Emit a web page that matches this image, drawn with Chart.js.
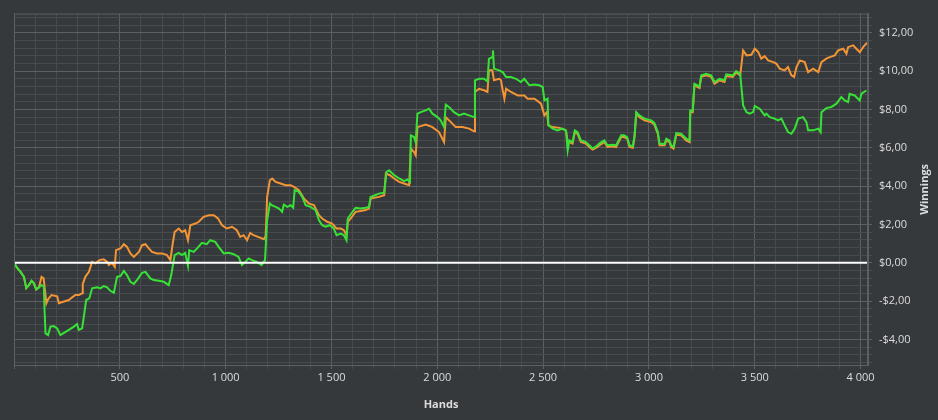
<!DOCTYPE html>
<html>
<head>
<meta charset="utf-8">
<script src="https://cdn.jsdelivr.net/npm/chart.js@4.4.1/dist/chart.umd.min.js"></script>
<style>
  html, body { margin: 0; padding: 0; background: #36393c; }
  canvas { display: block; }
</style>
</head>
<body>
<canvas id="myChart" width="938" height="420"></canvas>
<script>
// hands / winnings
const greenHands = [0,15,31,47,58,70,83,94,105,118,130,141,144,149,161,172,188,204,219,236,259,283,298,306,322,330,341,356,369,393,408,424,440,455,472,479,487,503,519,534,550,566,581,605,621,644,660,684,708,731,743,759,778,794,809,822,828,849,865,888,911,927,951,967,991,1014,1038,1061,1077,1093,1109,1124,1148,1170,1186,1196,1209,1220,1236,1252,1267,1275,1291,1307,1319,1326,1346,1362,1378,1401,1425,1441,1456,1472,1492,1511,1524,1543,1559,1571,1577,1590,1614,1637,1661,1677,1685,1700,1724,1749,1760,1772,1796,1820,1843,1859,1871,1875,1890,1898,1906,1922,1945,1961,1977,2001,2016,2032,2040,2055,2079,2103,2126,2150,2174,2178,2197,2221,2237,2244,2260,2263,2268,2292,2309,2325,2348,2372,2395,2411,2435,2459,2482,2498,2506,2521,2525,2545,2569,2592,2608,2616,2624,2639,2650,2663,2678,2702,2718,2734,2757,2765,2789,2804,2829,2845,2853,2869,2882,2897,2908,2924,2932,2940,2955,2979,3011,3026,3042,3050,3074,3082,3097,3105,3116,3129,3152,3176,3192,3195,3207,3215,3239,3247,3271,3294,3310,3333,3357,3365,3396,3412,3431,3445,3461,3476,3492,3500,3523,3547,3555,3571,3594,3610,3626,3641,3657,3673,3689,3705,3728,3744,3752,3776,3800,3811,3815,3838,3862,3886,3909,3925,3941,3948,3972,3996,4004,4027];
const greenWin = [0,-0.27,-0.47,-0.73,-1.32,-1.16,-0.94,-1.07,-1.39,-1.28,-1.16,-1.25,-2.38,-3.68,-3.77,-3.33,-3.30,-3.42,-3.77,-3.65,-3.50,-3.33,-3.19,-3.50,-3.42,-2.81,-1.94,-1.85,-1.33,-1.28,-1.33,-1.21,-1.28,-1.46,-1.56,-1.16,-0.73,-0.69,-0.42,-0.64,-0.99,-1.10,-0.90,-0.52,-0.47,-0.81,-0.90,-0.94,-0.99,-1.16,-0.64,0.40,0.52,0.40,0.52,-0.17,0.66,0.57,0.75,1.04,0.97,1.18,1.09,0.83,0.49,0.52,0.45,0.31,-0.12,0.05,0.23,0.14,0.05,-0.12,0.14,2.22,3.09,3.00,2.92,2.83,2.66,3.04,2.92,3.01,2.87,3.79,3.70,3.44,3.01,2.92,2.74,2.22,1.96,1.88,1.96,1.79,1.44,1.53,1.44,1.18,2.31,2.52,2.87,2.83,2.87,2.92,3.44,3.50,3.61,3.66,4.74,4.83,4.57,4.40,4.26,4.35,4.22,6.65,6.56,6.30,7.78,7.86,7.95,8.04,7.78,7.60,7.43,7.08,8.25,8.13,7.86,7.69,7.78,7.69,7.60,9.52,9.60,9.60,9.46,10.64,10.73,11.08,10.13,10.04,9.95,9.69,9.69,9.60,9.43,9.60,9.26,9.30,9.26,9.17,8.47,8.56,7.17,7.00,6.91,7.00,6.91,5.87,6.39,6.30,6.91,6.82,6.39,6.30,6.13,5.96,6.13,6.22,6.39,6.13,6.16,6.13,6.30,6.65,6.65,6.56,6.13,6.08,6.65,7.86,7.69,7.52,7.43,7.29,6.82,6.22,6.20,6.48,6.39,6.13,6.04,6.77,6.73,6.48,6.39,7.95,7.95,9.34,9.20,9.78,9.86,9.78,9.43,9.60,9.52,9.83,9.78,10.00,9.86,8.21,7.86,7.78,7.86,8.18,8.04,7.69,7.78,7.60,7.52,7.43,7.52,7.17,6.82,6.73,7.00,7.52,7.60,7.34,6.91,6.91,7.00,6.82,7.86,8.07,8.13,8.30,8.65,8.47,8.39,8.82,8.73,8.47,8.82,8.99];

const orangeHands = [0,15,31,47,58,70,83,94,105,118,130,140,153,161,177,204,212,236,259,275,290,306,322,325,337,354,369,385,404,424,440,448,463,476,482,503,519,534,550,566,590,605,621,637,652,676,700,723,739,750,759,778,794,809,822,833,857,873,896,920,944,964,983,1006,1030,1053,1069,1085,1101,1116,1132,1153,1165,1181,1189,1196,1209,1220,1236,1260,1283,1307,1323,1346,1370,1394,1417,1441,1456,1480,1503,1524,1543,1559,1571,1577,1590,1614,1637,1661,1677,1685,1724,1749,1757,1776,1796,1820,1843,1867,1875,1890,1898,1906,1922,1945,1977,2008,2032,2040,2064,2087,2119,2150,2174,2178,2197,2221,2237,2244,2260,2268,2292,2301,2309,2317,2325,2348,2380,2411,2427,2459,2490,2506,2518,2525,2545,2578,2608,2616,2624,2639,2650,2663,2678,2702,2718,2734,2757,2765,2789,2804,2829,2845,2853,2869,2882,2897,2908,2924,2932,2940,2955,2979,3011,3026,3042,3050,3074,3082,3097,3105,3116,3129,3152,3176,3192,3195,3207,3215,3239,3247,3271,3294,3310,3333,3357,3365,3396,3412,3431,3445,3461,3484,3500,3516,3531,3547,3563,3587,3602,3618,3641,3657,3673,3686,3697,3713,3736,3752,3776,3800,3815,3838,3854,3878,3894,3918,3933,3941,3965,3980,3996,4012,4030];
const orangeWin = [0,-0.27,-0.47,-0.73,-1.32,-1.16,-0.94,-1.07,-1.39,-1.28,-0.73,-0.81,-2.11,-1.90,-1.68,-1.75,-2.11,-2.02,-1.94,-1.80,-1.68,-1.68,-1.59,-1.10,-0.73,-0.47,0.05,-0.03,0.14,0.18,0.05,-0.12,0.00,-0.21,0.66,0.75,0.97,0.83,0.49,0.31,0.57,0.92,0.97,0.75,0.57,0.49,0.49,0.40,0.14,1.01,1.61,1.79,1.61,1.70,1.18,1.96,2.05,2.14,2.40,2.48,2.48,2.31,1.96,1.79,1.88,1.70,1.35,1.44,1.18,1.56,1.44,1.35,1.30,1.23,1.40,3.44,4.31,4.40,4.22,4.14,4.05,4.05,3.96,3.79,3.35,3.09,3.01,2.48,2.31,2.14,2.05,1.79,1.79,1.70,1.44,2.14,2.31,2.66,2.70,2.75,2.83,3.35,3.44,3.53,4.66,4.57,4.40,4.22,4.14,4.05,5.96,5.78,5.61,7.08,7.13,7.21,7.08,6.82,6.30,7.60,7.34,7.08,7.08,7.00,6.86,8.91,9.08,9.00,8.91,10.04,10.04,9.52,9.60,9.52,9.00,8.56,9.08,8.91,8.73,8.73,8.56,8.56,8.30,7.69,7.86,7.17,7.08,7.04,6.91,6.30,6.30,6.22,6.82,6.73,6.30,6.22,6.04,5.91,6.04,6.13,6.30,6.04,6.08,6.04,6.22,6.56,6.56,6.48,6.04,6.00,6.56,7.78,7.60,7.43,7.34,7.20,6.73,6.13,6.13,6.39,6.30,6.04,5.96,6.68,6.65,6.39,6.30,7.86,7.86,9.26,9.12,9.70,9.78,9.70,9.34,9.52,9.43,9.75,9.70,9.92,9.78,11.08,10.82,10.85,11.17,11.00,10.65,10.78,10.56,10.47,10.39,10.13,10.04,10.21,9.78,9.70,10.21,10.56,10.47,9.95,10.13,9.95,10.47,10.65,10.73,10.82,11.08,11.17,10.91,11.25,11.34,11.17,10.99,11.25,11.48];

const handsMin = 0, handsMax = 4035, handsStep = 100;
const winMin = -5.33, winMax = 13, winStep = 0.4;

const gridMajor = '#5d6063';
const gridMinor = '#484b4e';
const textColor = '#dcdcdc';

const pairs = (xs, ys) => xs.map((x, i) => ({ x: x, y: ys[i] }));

const isMult = (v, m) => Math.abs(v / m - Math.round(v / m)) < 1e-6;

function money(v) {
  return (v < 0 ? '-' : '') + '$' + Math.abs(v).toFixed(2).replace('.', ',');
}
function hands(v) {
  if (v >= 1000) return Math.floor(v / 1000) + ' ' + String(v % 1000).padStart(3, '0');
  return String(v);
}

// ticks on round steps only (chart.js would swap the last one for the max)
function stepTicks(scale, step) {
  const ticks = [];
  const first = Math.ceil(scale.min / step - 1e-9);
  const last = Math.floor(scale.max / step + 1e-9);
  for (let i = first; i <= last; i++) {
    ticks.push({ value: Math.round(i * step * 1000) / 1000 });
  }
  scale.ticks = ticks;
}

// white zero line on top of the series + rotated y title
const extras = {
  id: 'extras',
  afterDatasetsDraw(chart) {
    const { ctx, chartArea, scales } = chart;
    const y = scales.y.getPixelForValue(0);
    ctx.save();
    ctx.strokeStyle = '#ffffff';
    ctx.lineWidth = 2;
    ctx.beginPath();
    ctx.moveTo(chartArea.left, y);
    ctx.lineTo(chartArea.right, y);
    ctx.stroke();
    ctx.restore();
  },
  afterDraw(chart) {
    const { ctx, chartArea } = chart;
    ctx.save();
    // outline of the plot
    ctx.strokeStyle = gridMajor;
    ctx.lineWidth = 1;
    ctx.strokeRect(chartArea.left + 0.5, chartArea.top + 0.5, chartArea.right - chartArea.left - 1, chartArea.bottom - chartArea.top);
    ctx.translate(925, (chartArea.top + chartArea.bottom) / 2);
    ctx.rotate(-Math.PI / 2);
    ctx.fillStyle = textColor;
    ctx.font = 'bold 11px "Open Sans"';
    ctx.textAlign = 'center';
    ctx.textBaseline = 'middle';
    ctx.fillText('Winnings', 0, 0);
    ctx.restore();
  }
};

const ctx = document.getElementById('myChart');
new Chart(ctx, {
  type: 'line',
  data: {
    datasets: [
      {
        label: 'Net won',
        data: pairs(greenHands, greenWin),
        borderColor: '#36e236',
        borderWidth: 2,
        pointRadius: 0,
        tension: 0
      },
      {
        label: 'All-in adjusted',
        data: pairs(orangeHands, orangeWin),
        borderColor: '#f39535',
        borderWidth: 2,
        pointRadius: 0,
        tension: 0
      }
    ]
  },
  options: {
    responsive: false,
    animation: false,
    layout: { padding: { left: 14, top: 13, right: 0, bottom: 0 } },
    plugins: {
      legend: { display: false },
      tooltip: { enabled: false }
    },
    scales: {
      x: {
        type: 'linear',
        position: 'bottom',
        min: handsMin,
        max: handsMax,
        afterFit: (s) => { s.height = 55 },
        afterBuildTicks: (s) => stepTicks(s, handsStep),
        ticks: {
          autoSkip: false,
          maxRotation: 0,
          padding: 2,
          color: textColor,
          font: { family: 'Open Sans', size: 11 },
          callback: (v) => (v > 0 && isMult(v, 500)) ? hands(v) : ''
        },
        grid: {
          color: (c) => isMult(c.tick.value, 500) ? gridMajor : gridMinor,
          tickColor: (c) => isMult(c.tick.value, 500) ? gridMajor : gridMinor,
          tickLength: 4
        },
        border: { color: gridMajor },
        title: {
          display: true,
          text: 'Hands',
          color: textColor,
          font: { family: 'Open Sans', size: 11, weight: 'bold' },
          padding: { top: 4, bottom: 9 }
        }
      },
      y: {
        type: 'linear',
        position: 'right',
        min: winMin,
        max: winMax,
        afterFit: (s) => { s.width = 70 },
        afterBuildTicks: (s) => stepTicks(s, winStep),
        ticks: {
          autoSkip: false,
          padding: 7,
          color: textColor,
          font: { family: 'Open Sans', size: 11 },
          callback: (v) => isMult(v, 2) ? money(v) : ''
        },
        grid: {
          color: (c) => isMult(c.tick.value, 2) ? gridMajor : gridMinor,
          tickColor: (c) => isMult(c.tick.value, 2) ? gridMajor : gridMinor,
          tickLength: 4
        },
        border: { color: gridMajor }
      }
    }
  },
  plugins: [extras]
});
</script>
</body>
</html>
